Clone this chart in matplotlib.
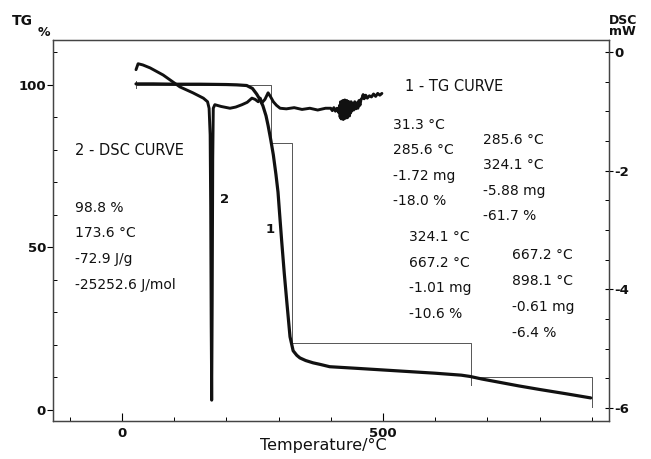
"""TG / DSC thermal analysis chart (twin y axes)."""

import matplotlib
matplotlib.use("Agg")
import matplotlib.pyplot as plt
import numpy as np
from matplotlib.ticker import MultipleLocator

plt.rcParams["font.family"] = ["DejaVu Sans"]
plt.rcParams["axes.unicode_minus"] = False

# ---------------------------------------------------------------------------
# Data
# ---------------------------------------------------------------------------

# curve 1 - TG, mass %
tg_temp = [27, 60, 100, 150, 200, 220, 239, 250, 258, 264, 270, 276, 280, 285,
           290, 295, 299, 302, 306, 311, 316, 322, 328, 335, 341, 352, 366, 380,
           398, 450, 500, 550, 600, 650, 667, 690, 720, 760, 800, 850, 898]
tg_mass = [100.3, 100.3, 100.2, 100.2, 100.1, 100.0, 99.8, 98.9, 97.2, 95.6,
           93.6, 90.5, 87.5, 83.2, 78.5, 72.5, 67.0, 60.5, 52.0, 42.0, 33.0,
           22.5, 18.2, 16.8, 16.0, 15.2, 14.5, 14.0, 13.3, 12.8, 12.3, 11.8,
           11.3, 10.7, 10.3, 9.5, 8.6, 7.4, 6.3, 5.0, 3.7]

# curve 2 - DSC, mW (noisy stretch above 400 °C)
dsc_temp = [27, 31, 40, 54, 79, 111, 136, 156, 164, 167, 169, 170, 171, 172,
            173, 174, 175, 178, 190, 207, 218, 230, 240, 249, 255, 261, 265,
            268, 274, 280, 285, 290, 296, 303, 315, 330, 345, 360, 375, 390,
            400, 403, 406, 409, 412, 415, 417, 418, 419, 420, 421, 422, 423,
            424, 425, 426, 427, 428, 429, 430, 431, 432, 433, 434, 435, 436,
            437, 438, 439, 440, 442, 444, 446, 448, 450, 452, 454, 456, 458,
            460, 462, 464, 467, 470, 474, 478, 482, 486, 490, 494, 498]
dsc_heat = [-0.30, -0.20, -0.22, -0.27, -0.39, -0.59, -0.69, -0.78, -0.84,
            -0.95, -1.40, -2.60, -4.60, -5.87, -4.20, -1.80, -0.95, -0.89,
            -0.92, -0.95, -0.93, -0.89, -0.85, -0.78, -0.80, -0.84, -0.78,
            -0.86, -0.80, -0.69, -0.76, -0.84, -0.90, -0.95, -0.96, -0.94,
            -0.97, -0.95, -0.98, -0.95, -0.95, -0.99, -0.94, -1.00, -0.95,
            -1.02, -0.90, -1.10, -0.84, -1.13, -0.86, -1.12, -0.82, -1.14,
            -0.85, -1.10, -0.81, -1.12, -0.84, -1.09, -0.82, -1.11, -0.86,
            -1.06, -0.84, -1.08, -0.86, -1.03, -0.84, -1.00, -0.88, -0.98,
            -0.84, -0.96, -0.86, -0.95, -0.82, -0.90, -0.80, -0.78, -0.72,
            -0.79, -0.73, -0.78, -0.74, -0.76, -0.71, -0.75, -0.70, -0.73,
            -0.70]

# TG step-evaluation lines (NaN separates the pieces)
step_temp = [27, 27, np.nan, 27, 285, 285, 326, 326, 668, 668, np.nan,
             668, 900, 900]
step_mass = [101.3, 99.0, np.nan, 100.1, 100.1, 82.2, 82.2, 20.6, 20.6, 7.7,
             np.nan, 10.2, 10.2, 0.9]

tg_ticks = [0, 50, 100]
dsc_ticks = [0, -2, -4, -6]
temp_ticks = [0, 500]

# evaluation results printed on the chart
dsc_block = ["98.8 %", "173.6 °C", "-72.9 J/g", "-25252.6 J/mol"]
step1_block = ["31.3 °C", "285.6 °C", "-1.72 mg", "-18.0 %"]
step2_block = ["285.6 °C", "324.1 °C", "-5.88 mg", "-61.7 %"]
step3_block = ["324.1 °C", "667.2 °C", "-1.01 mg", "-10.6 %"]
step4_block = ["667.2 °C", "898.1 °C", "-0.61 mg", "-6.4 %"]

# ---------------------------------------------------------------------------
# Plot
# ---------------------------------------------------------------------------

fig = plt.figure(figsize=(6.51, 4.59), dpi=100)
ax = fig.add_axes([53 / 651, 1 - 421 / 459, 556 / 651, 381 / 459])
ax2 = ax.twinx()

ink = "#111111"

ax.plot(step_temp, step_mass, color="#555555", lw=0.7, zorder=2)
ax.plot(tg_temp, tg_mass, color=ink, lw=2.3, solid_capstyle="round",
        solid_joinstyle="round", zorder=3)
ax2.plot(dsc_temp, dsc_heat, color=ink, lw=2.1, solid_capstyle="round",
         solid_joinstyle="round", zorder=3)

ax.set_xlim(-132, 933)
ax.set_ylim(-3.4, 113.8)
ax2.set_ylim(-6.22, 0.2)

ax.set_xticks(temp_ticks)
ax.xaxis.set_minor_locator(MultipleLocator(100))
ax.set_yticks(tg_ticks)
ax.yaxis.set_minor_locator(MultipleLocator(10))
ax2.set_yticks(dsc_ticks)
ax2.yaxis.set_minor_locator(MultipleLocator(0.5))

tick_font = dict(fontsize=9.5, fontweight="bold", color=ink)
ax.set_xticklabels([str(t) for t in temp_ticks], **tick_font)
ax.set_yticklabels([str(t) for t in tg_ticks], **tick_font)
ax2.set_yticklabels([str(t) for t in dsc_ticks], **tick_font)

ax.tick_params(axis="x", which="major", direction="in", length=6, width=0.8,
               pad=4, top=False)
ax.tick_params(axis="x", which="minor", direction="in", length=3, width=0.7,
               top=False)
ax.tick_params(axis="y", which="major", direction="out", length=4, width=0.8,
               pad=1)
ax.tick_params(axis="y", which="minor", direction="in", length=3, width=0.7)
ax2.tick_params(axis="y", which="major", direction="inout", length=6,
                width=0.8, pad=1)
ax2.tick_params(axis="y", which="minor", direction="in", length=3, width=0.7)

for a in (ax, ax2):
    for sp in a.spines.values():
        sp.set_color("#444444")
        sp.set_linewidth(0.9)

ax.set_xlabel("Temperature/°C", fontsize=11.5, color=ink)
ax.xaxis.set_label_coords(0.486, -0.045)

# axis titles
fig.text(12 / 651, 1 - 21 / 459, "TG", fontsize=10, fontweight="bold",
         color=ink, va="center", ha="left")
fig.text(38 / 651, 1 - 32 / 459, "%", fontsize=9, fontweight="bold",
         color=ink, va="center", ha="left")
fig.text(609 / 651, 1 - 26 / 459, "DSC\nmW", fontsize=9, fontweight="bold",
         color=ink, va="center", ha="left", linespacing=0.85)

# curve labels and evaluation results
ax.text(542, 99.4, "1 - TG CURVE", fontsize=10.5, color=ink, va="center",
        ha="left")
ax.text(-90, 79.7, "2 - DSC CURVE", fontsize=10.5, color=ink, va="center",
        ha="left")
ax.text(188, 64.6, "2", fontsize=9.5, fontweight="bold", color=ink,
        va="center", ha="left")
ax.text(276, 55.4, "1", fontsize=9.5, fontweight="bold", color=ink,
        va="center", ha="left")


def put_block(x, y0, dy, lines):
    for i, s in enumerate(lines):
        ax.text(x, y0 - i * dy, s, fontsize=10, color=ink, va="center",
                ha="left")


put_block(-90, 62.2, 7.9, dsc_block)
put_block(519, 87.7, 7.8, step1_block)
put_block(692, 83.1, 7.8, step2_block)
put_block(550, 53.2, 7.9, step3_block)
put_block(747, 47.7, 8.0, step4_block)

fig.savefig("out.png", dpi=100)
